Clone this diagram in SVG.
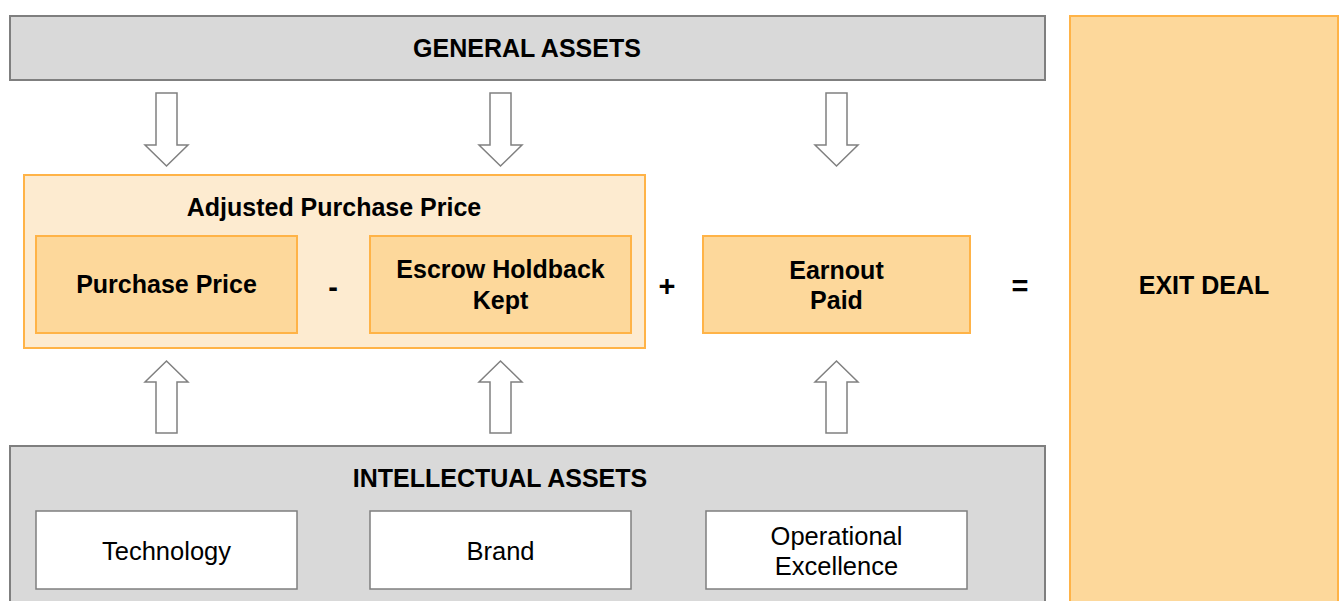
<svg xmlns="http://www.w3.org/2000/svg" width="1344" height="601" viewBox="0 0 1344 601">
<style>
.gray{fill:#d9d9d9;stroke:#7f7f7f;stroke-width:2}
.exit{fill:#fdd89b;stroke:#ffb347;stroke-width:2}
.outer{fill:#fdebd0;stroke:#ffb347;stroke-width:2}
.inner{fill:#fdd89b;stroke:#ffb347;stroke-width:2}
.white{fill:#ffffff;stroke:#7f7f7f;stroke-width:1.5}
.arrow{fill:#ffffff;stroke:#808080;stroke-width:1.5;stroke-linejoin:miter}
text{font-family:"Liberation Sans",Arial,sans-serif;fill:#000;text-anchor:middle}
.b{font-weight:bold;font-size:25px}
.r{font-size:25.5px}
.op{font-weight:bold;font-size:29px}
</style>
<g id="general-assets">
<rect class="gray" x="10" y="16" width="1035" height="64"/>
<text class="b" x="527" y="57">GENERAL ASSETS</text>
</g>
<g id="exit-deal">
<rect class="exit" x="1070" y="16" width="268" height="600"/>
<text class="b" x="1204" y="294">EXIT DEAL</text>
</g>
<g id="adjusted-purchase-price">
<rect class="outer" x="24" y="175" width="621" height="173"/>
<text class="b" x="334" y="216">Adjusted Purchase Price</text>
</g>
<g id="purchase-price">
<rect class="inner" x="36" y="236" width="261" height="97"/>
<text class="b" x="166.5" y="293">Purchase Price</text>
</g>
<g id="escrow">
<rect class="inner" x="370" y="236" width="261" height="97"/>
<text class="b" x="500.5" y="278">Escrow Holdback</text>
<text class="b" x="500.5" y="309">Kept</text>
</g>
<g id="earnout">
<rect class="inner" x="703" y="236" width="267" height="97"/>
<text class="b" x="836.5" y="279">Earnout</text>
<text class="b" x="836.5" y="309">Paid</text>
</g>
<g id="operators">
<text class="op" x="333" y="297">-</text>
<text class="op" x="667" y="296">+</text>
<text class="op" x="1020" y="296">=</text>
</g>
<g id="intellectual-assets">
<rect class="gray" x="10" y="446" width="1035" height="170"/>
<text class="b" x="500" y="487">INTELLECTUAL ASSETS</text>
</g>
<g id="technology">
<rect class="white" x="36" y="511" width="261" height="78"/>
<text class="r" x="166.5" y="560">Technology</text>
</g>
<g id="brand">
<rect class="white" x="370" y="511" width="261" height="78"/>
<text class="r" x="500.5" y="560">Brand</text>
</g>
<g id="operational-excellence">
<rect class="white" x="706" y="511" width="261" height="78"/>
<text class="r" x="836.5" y="545">Operational</text>
<text class="r" x="836.5" y="575">Excellence</text>
</g>
<g id="connectors">
<path class="arrow" d="M156,93 H177 V145 H188 L166.5,166 L145,145 H156 Z"/>
<path class="arrow" d="M490,93 H511 V145 H522 L500.5,166 L479,145 H490 Z"/>
<path class="arrow" d="M826,93 H847 V145 H858 L836.5,166 L815,145 H826 Z"/>
<path class="arrow" d="M156,433 H177 V382 H188 L166.5,361 L145,382 H156 Z"/>
<path class="arrow" d="M490,433 H511 V382 H522 L500.5,361 L479,382 H490 Z"/>
<path class="arrow" d="M826,433 H847 V382 H858 L836.5,361 L815,382 H826 Z"/>
</g>
</svg>
